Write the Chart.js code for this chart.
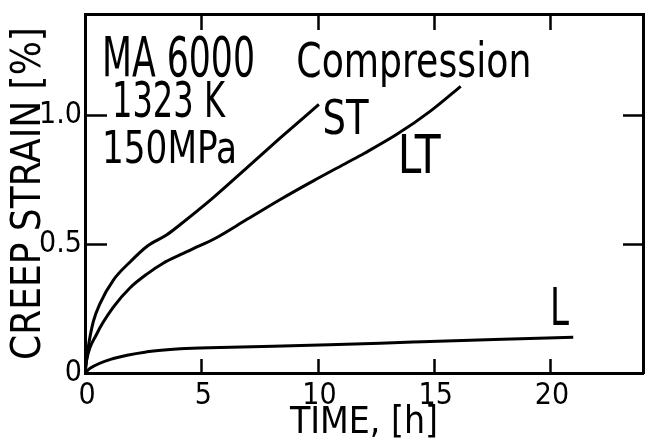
<!DOCTYPE html>
<html>
<head>
<meta charset="utf-8">
<script src="https://cdn.jsdelivr.net/npm/chart.js@4"></script>
<style>
  html, body { margin: 0; padding: 0; background: #fff; }
  #wrap { width: 645px; height: 446px; }
</style>
</head>
<body>
<div id="wrap"><canvas id="creep-chart"></canvas></div>
<script>
// creep curves (time in h, strain in %)
const timeST = [0, 0.14, 0.36, 0.65, 1.22, 1.94, 2.66, 3.52, 4.1, 5.53, 6.97, 8.4, 10.06];
const strainST = [0, 0.10, 0.20, 0.27, 0.36, 0.43, 0.49, 0.535, 0.575, 0.68, 0.795, 0.91, 1.04];

const timeLT = [0, 0.07, 0.5, 1.22, 1.94, 2.66, 3.38, 4.1, 4.81, 5.53, 6.97, 8.4, 9.84, 11.28, 12.0, 13.43, 14.87, 16.16];
const strainLT = [0, 0.05, 0.15, 0.255, 0.33, 0.383, 0.426, 0.458, 0.488, 0.518, 0.595, 0.672, 0.745, 0.815, 0.85, 0.925, 1.015, 1.11];

const timeL = [0, 0.22, 1.22, 2.66, 4.1, 5.8, 10.5, 14.1, 17.6, 21.0];
const strainL = [0, 0.018, 0.056, 0.082, 0.094, 0.099, 0.109, 0.12, 0.13, 0.138];

const xTicks = [0, 5, 10, 15, 20];
const yTicks = [0, 0.5, 1.0];

// text written inside the frame: [text, time, strain, width px, cap height px]
const notes = [
    ["MA 6000", 0.73, 1.15, 153, 40],
    ["1323 K", 1.16, 0.992, 113, 36],
    ["150MPa", 0.73, 0.815, 135, 33],
    ["Compression", 9.09, 1.146, 235, 35],
    ["ST", 10.22, 0.927, 46, 35],
    ["LT", 13.45, 0.773, 43, 39],
    ["L", 20.0, 0.185, 19, 37],
];

const narrow = "'Liberation Sans Narrow', 'DejaVu Sans Condensed', 'DejaVu Sans', sans-serif";

function toPoints(xs, ys) {
    return xs.map((x, i) => ({ x: x, y: ys[i] }));
}

function curve(label, xs, ys) {
    return {
        label: label,
        data: toPoints(xs, ys),
        borderColor: "#000",
        borderWidth: 3,
        pointRadius: 0,
        fill: false,
        cubicInterpolationMode: "monotone",
    };
}

function seg(ctx, x1, y1, x2, y2) {
    ctx.beginPath();
    ctx.moveTo(x1, y1);
    ctx.lineTo(x2, y2);
    ctx.stroke();
}

// tick marks pointing into the frame, on all four sides
const innerTicks = {
    id: "innerTicks",
    afterDraw(chart) {
        const ctx = chart.ctx;
        const xs = chart.scales.x;
        const ys = chart.scales.y;
        const left = xs.getPixelForValue(0);
        const right = xs.getPixelForValue(24);
        const bottom = ys.getPixelForValue(0);
        const top = ys.getPixelForValue(1.39);
        ctx.save();
        ctx.strokeStyle = "#000";
        ctx.lineWidth = 2.5;
        xTicks.filter(v => v > 0).forEach(v => {
            const px = Math.round(xs.getPixelForValue(v)) + 0.5;
            seg(ctx, px, bottom, px, bottom - 14);
            seg(ctx, px, top, px, top + 16);
        });
        yTicks.filter(v => v > 0).forEach(v => {
            const py = Math.round(ys.getPixelForValue(v)) + 0.5;
            seg(ctx, left, py, left + 22, py);
            seg(ctx, right, py, right - 20, py);
        });
        ctx.restore();
    },
};

const notesPlugin = {
    id: "notes",
    afterDatasetsDraw(chart) {
        const ctx = chart.ctx;
        const xs = chart.scales.x;
        const ys = chart.scales.y;
        ctx.save();
        ctx.fillStyle = "#000";
        ctx.textBaseline = "alphabetic";
        ctx.textAlign = "left";
        notes.forEach(([text, t, s, w, cap]) => {
            const size = cap / 0.73;
            ctx.font = size + "px 'DejaVu Sans Condensed', 'DejaVu Sans', sans-serif";
            const natural = ctx.measureText(text).width;
            ctx.save();
            ctx.translate(xs.getPixelForValue(t), ys.getPixelForValue(s));
            ctx.scale(w / natural, 1);
            ctx.fillText(text, 0, 0);
            ctx.restore();
        });
        ctx.restore();
    },
};

// fixed box sizes so the frame lands where it is in the scan
function fixSize(prop, size) {
    return (a) => {
        a[prop] = size;
        a.paddingTop = 0;
        a.paddingBottom = 0;
        a.paddingLeft = 0;
        a.paddingRight = 0;
    };
}

const frameAxis = (pos, extra) => Object.assign({
    type: "linear",
    position: pos,
    border: { display: true, color: "#000", width: 3 },
    grid: { drawOnChartArea: false, drawTicks: false },
}, extra);

new Chart(document.getElementById("creep-chart"), {
    type: "line",
    data: {
        datasets: [
            curve("ST", timeST, strainST),
            curve("LT", timeLT, strainLT),
            curve("L", timeL, strainL),
        ],
    },
    options: {
        responsive: true,
        maintainAspectRatio: false,
        animation: false,
        layout: { padding: { top: 14, right: 2, left: 0, bottom: 0 } },
        plugins: { legend: { display: false }, tooltip: { enabled: false } },
        scales: {
            x: frameAxis("bottom", {
                min: 0, max: 24,
                afterFit: fixSize("height", 73),
                afterBuildTicks: (a) => { a.ticks = xTicks.map(v => ({ value: v })); },
                ticks: { padding: 5, labelOffset: 2, color: "#000", font: { family: narrow, size: 30 } },
                title: { display: true, text: "TIME, [h]", color: "#000", padding: 0,
                         font: { family: narrow, size: 37 } },
            }),
            y: frameAxis("left", {
                min: 0, max: 1.39,
                afterFit: fixSize("width", 85),
                afterBuildTicks: (a) => { a.ticks = yTicks.map(v => ({ value: v })); },
                ticks: { padding: 3, color: "#000", font: { family: narrow, size: 30 },
                         callback: (v) => v === 0 ? "0" : v.toFixed(1) },
                title: { display: true, text: "CREEP STRAIN [%]", color: "#000", padding: 6,
                         font: { family: narrow, size: 40 } },
            }),
            x2: frameAxis("top", {
                min: 0, max: 24,
                afterFit: fixSize("height", 0),
                ticks: { display: false },
            }),
            y2: frameAxis("right", {
                min: 0, max: 1.39,
                afterFit: fixSize("width", 0),
                ticks: { display: false },
            }),
        },
    },
    plugins: [innerTicks, notesPlugin],
});
</script>
</body>
</html>
